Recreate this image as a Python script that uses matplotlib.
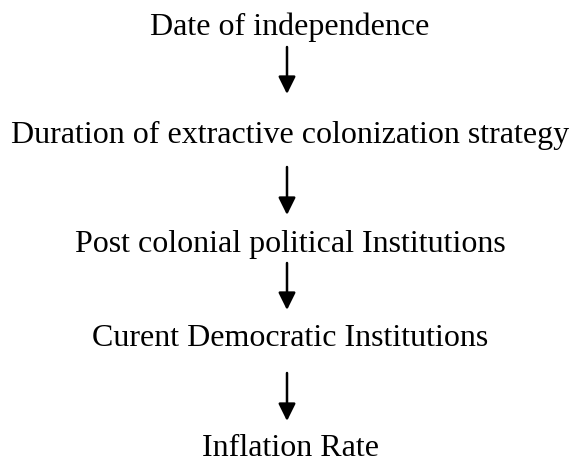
import matplotlib
matplotlib.use("Agg")
import matplotlib.pyplot as plt
from matplotlib.patches import FancyArrowPatch

# flowchart boxes (text only) and their baselines in pixels from the top
labels = ["Date of independence",
          "Duration of extractive colonization strategy",
          "Post colonial political Institutions",
          "Curent Democratic Institutions",
          "Inflation Rate"]
label_y = [35, 143, 252, 346, 456]

# arrows: (start y, tip y)
arrow_top = [47, 167, 263, 373]
arrow_tip = [94, 215, 310, 421]

fig = plt.figure(figsize=(5.72, 4.59), dpi=100)
ax = fig.add_axes([0, 0, 1, 1])
ax.set_xlim(0, 572)
ax.set_ylim(459, 0)
ax.axis("off")

cx = 290
for txt, y in zip(labels, label_y):
    ax.text(cx, y, txt, ha="center", va="baseline",
            fontsize=23, family="Liberation Serif", color="black")

for y0, y1 in zip(arrow_top, arrow_tip):
    arr = FancyArrowPatch((287, y0), (287, y1),
                          arrowstyle="-|>,head_length=10.5,head_width=5.2",
                          color="black", lw=1.8, shrinkA=0, shrinkB=0)
    ax.add_patch(arr)

fig.savefig("out.png", dpi=100)
